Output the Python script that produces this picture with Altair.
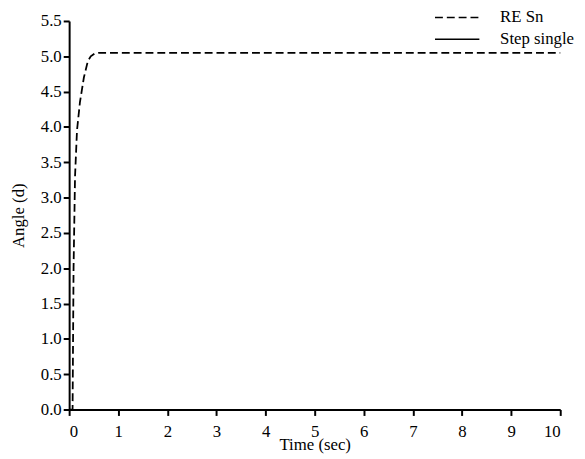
import altair as alt
import pandas as pd

time_re = [0.0, 0.07, 0.09, 0.12, 0.16, 0.22, 0.3, 0.38, 0.44, 0.52, 0.62, 1.0, 3.0, 5.0, 7.0, 10.0]
angle_re = [0.0, 0.0, 2.0, 3.3, 3.95, 4.35, 4.7, 4.93, 5.0, 5.04, 5.05, 5.05, 5.05, 5.05, 5.05, 5.05]
series = ["RE Sn", "Step single"]
x_ticks = list(range(0, 11))
y_ticks = [0.0, 0.5, 1.0, 1.5, 2.0, 2.5, 3.0, 3.5, 4.0, 4.5, 5.0, 5.5]

df = pd.DataFrame({"t": time_re, "a": angle_re, "s": "RE Sn"})

FONT = "Times New Roman, Liberation Serif, DejaVu Serif, serif"

line = alt.Chart(df).mark_line(color="black", strokeWidth=1.8).encode(
    x=alt.X("t:Q", scale=alt.Scale(domain=[0, 10], nice=False),
            axis=alt.Axis(values=x_ticks, title="Time (sec)", format="d",
                          titlePadding=-2, labelPadding=8)),
    y=alt.Y("a:Q", scale=alt.Scale(domain=[0, 5.5], nice=False),
            axis=alt.Axis(values=y_ticks, title="Angle (d)", format=".1f",
                          titlePadding=13, labelPadding=2)),
    strokeDash=alt.StrokeDash("s:N",
        scale=alt.Scale(domain=series, range=[[8, 4], [1, 0]]),
        legend=alt.Legend(title=None, orient="none", legendX=380, legendY=-17,
                          symbolType="M-1.8,0H1.8", symbolSize=625,
                          symbolStrokeColor="black", symbolStrokeWidth=1.5,
                          symbolFillColor="transparent",
                          labelFont=FONT, labelFontSize=17, labelColor="black",
                          rowPadding=-2, labelOffset=30, padding=0)),
)

chart = line.properties(
    width=498, height=394,
    autosize=alt.AutoSizeParams(type="none"),
    padding={"left": 62, "top": 10, "right": 17, "bottom": 46},
).configure(font=FONT).configure_view(stroke=None).configure_axis(
    labelFont=FONT, labelFontSize=17, labelColor="black",
    titleFont=FONT, titleFontSize=17, titleFontWeight="normal", titleColor="black",
    domainColor="black", domainWidth=2, tickColor="black", tickWidth=2, tickSize=6,
    grid=False,
)

chart.save("out.html", embed_options={"renderer": "svg", "actions": False})
